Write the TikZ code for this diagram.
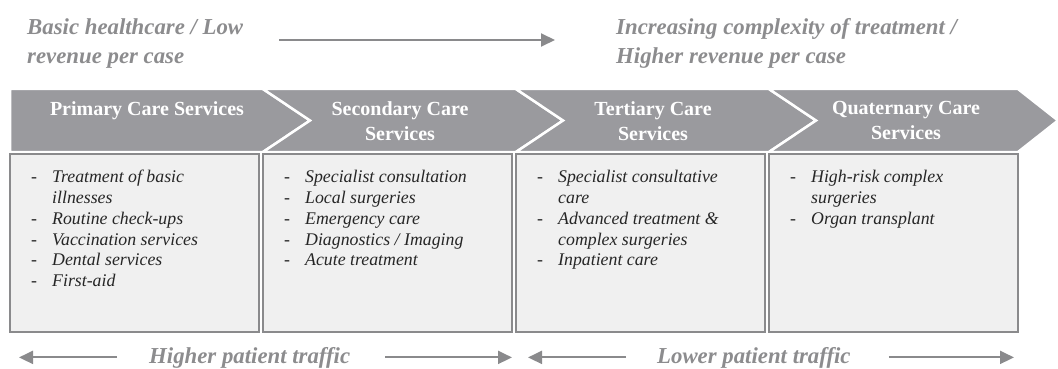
\documentclass[tikz,border=0pt]{standalone}
\usepackage{fontspec}
\setmainfont{Liberation Serif}
\usetikzlibrary{arrows.meta, positioning}
\definecolor{hdgray}{RGB}{154,154,158}
\definecolor{boxgray}{RGB}{240,240,240}
\definecolor{linegray}{RGB}{138,138,140}
\definecolor{txtgray}{RGB}{140,140,142}
\newcommand{\dashlist}[1]{\begin{tabular}{@{}p{21pt}@{}l@{}}#1\end{tabular}}
\tikzset{%
>={Triangle[width=13pt,length=14pt]},
  % Specifications for style of nodes:
            carebox/.style = {rectangle, draw=linegray, line width=1.3pt,
                            fill=boxgray, minimum width=249pt, minimum
                            height=178pt, inner sep=0pt, outer sep=0pt},
                            head/.style = {text=white, align=center, inner sep=0pt, anchor=north,
                            font=\fontsize{20}{25}\selectfont\bfseries},
                            items/.style = {text=black!85, inner sep=0pt, anchor=north west,
                            font=\fontsize{17.8}{20.8}\selectfont\itshape},
                            side/.style = {text=txtgray, align=left, inner sep=0pt,
                            font=\fontsize{22.8}{29}\selectfont\bfseries\itshape},
                            flow/.style = {->, draw=linegray, line width=2pt},
                            chev/.style = {fill=hdgray, draw=white, line width=2.5pt}
}

\begin{document}
\begin{tikzpicture}[x=1pt, y=-1pt, node distance=4pt]
                        \useasboundingbox (0,0) rectangle (1058,369);
                        % chevrons
                        \draw[chev] (10,89) -- (263,89) -- (310,120.5) -- (263,152) -- (10,152) -- cycle;
                        \foreach \l/\r/\t in {263/516/563, 516/769/816, 769/1018/1058}
                          \draw[chev] (\l,89) -- (\r,89) -- (\t,120.5) -- (\r,152) -- (\l,152) -- (\l+47,120.5) -- cycle;
                        \node[head] (primhd) at (147,101) {Primary Care Services};
                        \node[head] (sechd) at (400,101) {Secondary Care\\Services};
                        \node[head] (terthd) at (653,101) {Tertiary Care\\Services};
                        \node[head] (quathd) at (906,101) {Quaternary Care\\Services};
                        % boxes
                        \node[carebox, anchor=north west] (prim) at (10,154) {};
                        \node[carebox, right=of prim] (sec) {};
                        \node[carebox, right=of sec] (tert) {};
                        \node[carebox, right=of tert] (quat) {};
                        \node[items] (primlist) at ([shift={(21,14)}]prim.north west) {\dashlist{
                          - & Treatment of basic\\ & illnesses\\ - & Routine check-ups\\
                          - & Vaccination services\\ - & Dental services\\ - & First-aid}};
                        \node[items] (seclist) at ([shift={(21,14)}]sec.north west) {\dashlist{
                          - & Specialist consultation\\ - & Local surgeries\\ - & Emergency care\\
                          - & Diagnostics / Imaging\\ - & Acute treatment}};
                        \node[items] (tertlist) at ([shift={(21,14)}]tert.north west) {\dashlist{
                          - & Specialist consultative\\ & care\\ - & Advanced treatment \&\\
                          & complex surgeries\\ - & Inpatient care}};
                        \node[items] (quatlist) at ([shift={(21,14)}]quat.north west) {\dashlist{
                          - & High-risk complex\\ & surgeries\\ - & Organ transplant}};
                        % top labels
                        \node[side, anchor=north west] (basic) at (27,18) {Basic healthcare / Low\\revenue per case};
                        \node[side, anchor=north west] (complex) at (616,18) {Increasing complexity of treatment /\\Higher revenue per case};
                        \coordinate (revL) at (279,40);
                        \coordinate (revR) at (555,40);
                        \draw[flow] (revL) -- (revR);
                        % bottom labels
                        \node[side, anchor=base west] (hitraffic) at (149,363) {Higher patient traffic};
                        \node[side, anchor=base west] (lotraffic) at (657,363) {Lower patient traffic};
                        \coordinate (hiL) at (19,358);
                        \coordinate (hiR) at (512,358);
                        \coordinate (loL) at (528,358);
                        \coordinate (loR) at (1014,358);
                        \draw[flow] ([xshift=-32pt]hitraffic.west) -- (hitraffic.west -| hiL);
                        \draw[flow] ([xshift=35pt]hitraffic.east) -- (hitraffic.east -| hiR);
                        \draw[flow] ([xshift=-31pt]lotraffic.west) -- (lotraffic.west -| loL);
                        \draw[flow] ([xshift=38pt]lotraffic.east) -- (lotraffic.east -| loR);
                    \end{tikzpicture}
\end{document}
